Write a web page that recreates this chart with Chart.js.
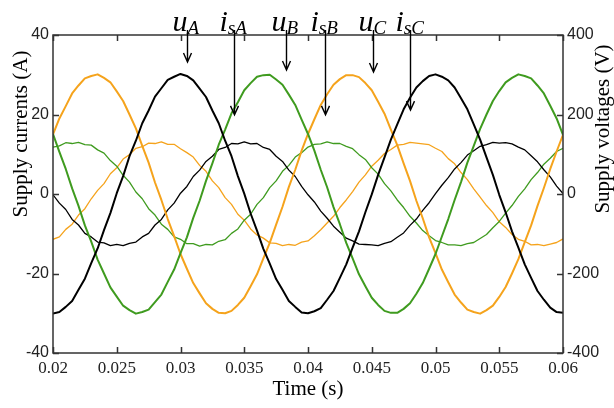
<!DOCTYPE html>
<html>
<head>
<meta charset="utf-8">
<script src="https://cdn.jsdelivr.net/npm/chart.js@4.4.1/dist/chart.umd.min.js"></script>
<style>
    html, body { margin: 0; padding: 0; background: #fff; }
    #wrap { width: 614px; height: 408px; }
</style>
</head>
<body>
<div id="wrap"><canvas id="chart" width="614" height="408"></canvas></div>
<script>
// time samples (s)
const time = [
    0.02, 0.0205, 0.021, 0.0215, 0.022, 0.0225, 0.023, 0.0235, 0.024, 0.0245,
    0.025, 0.0255, 0.026, 0.0265, 0.027, 0.0275, 0.028, 0.0285, 0.029, 0.0295,
    0.03, 0.0305, 0.031, 0.0315, 0.032, 0.0325, 0.033, 0.0335, 0.034, 0.0345,
    0.035, 0.0355, 0.036, 0.0365, 0.037, 0.0375, 0.038, 0.0385, 0.039, 0.0395,
    0.04, 0.0405, 0.041, 0.0415, 0.042, 0.0425, 0.043, 0.0435, 0.044, 0.0445,
    0.045, 0.0455, 0.046, 0.0465, 0.047, 0.0475, 0.048, 0.0485, 0.049, 0.0495,
    0.05, 0.0505, 0.051, 0.0515, 0.052, 0.0525, 0.053, 0.0535, 0.054, 0.0545,
    0.055, 0.0555, 0.056, 0.0565, 0.057, 0.0575, 0.058, 0.0585, 0.059, 0.0595,
    0.06
];

// supply voltages (V)
const uA = [
    -301, -297, -284, -269, -241, -213, -174, -137, -91, -48, 2, 45, 95, 134, 178, 210, 245, 266, 287, 295,
    302, 297, 286, 265, 244, 210, 178, 134, 95, 45, 1, -49, -92, -138, -175, -214, -241, -269, -284, -298,
    -300, -295, -287, -266, -244, -211, -177, -135, -94, -46, -1, 48, 92, 137, 175, 213, 242, 268, 284, 297,
    301, 295, 286, 268, 241, 213, 175, 137, 92, 48, -2, -46, -94, -135, -177, -211, -244, -266, -286, -297,
    -299
];
const uB = [
    151, 106, 63, 14, -30, -79, -120, -165, -200, -235, -258, -281, -292, -301, -297, -291, -272, -253, -221, -190,
    -149, -109, -60, -17, 33, 77, 124, 162, 203, 231, 261, 279, 295, 299, 300, 288, 275, 250, 224, 187,
    151, 109, 61, 17, -33, -76, -123, -162, -202, -232, -261, -279, -294, -299, -299, -289, -275, -251, -224, -188,
    -151, -107, -63, -15, 30, 79, 121, 164, 200, 234, 259, 281, 292, 301, 297, 291, 273, 253, 222, 190,
    149
];
const uC = [
    150, 190, 221, 253, 273, 291, 297, 301, 292, 281, 258, 234, 200, 165, 121, 79, 29, -15, -63, -106,
    -151, -188, -224, -250, -275, -289, -299, -300, -294, -279, -261, -232, -202, -162, -123, -77, -32, 18, 61, 109,
    151, 188, 224, 251, 275, 289, 299, 299, 294, 279, 261, 232, 202, 162, 123, 77, 33, -17, -61, -109,
    -149, -190, -222, -253, -273, -291, -297, -301, -292, -281, -259, -234, -200, -164, -121, -79, -30, 15, 63, 107,
    149
];

// supply currents (A)
const isA = [
    -0.2, -2.3, -3.9, -6.4, -7.8, -9.9, -10.8, -12.1, -12.3, -13.0, -12.7, -13.0, -12.4, -12.1, -10.8, -9.9, -7.8, -6.4, -4.0, -2.3,
    0.2, 1.9, 4.4, 6.0, 8.2, 9.5, 11.2, 11.7, 12.7, 12.6, 13.1, 12.6, 12.7, 11.7, 11.2, 9.5, 8.2, 6.0, 4.4, 1.9,
    -0.2, -2.0, -4.3, -6.1, -8.1, -9.6, -11.1, -11.8, -12.6, -12.7, -12.8, -13.0, -12.4, -12.0, -10.9, -9.8, -7.9, -6.3, -4.1, -2.2,
    0.1, 2.2, 4.1, 6.3, 7.9, 9.8, 10.9, 12.0, 12.4, 13.0, 12.8, 12.9, 12.6, 11.8, 11.1, 9.6, 8.1, 6.1, 4.3, 2.0,
    0.1
];
const isB = [
    11.8, 12.1, 12.9, 12.7, 13.0, 12.4, 12.3, 11.1, 10.3, 8.4, 7.0, 4.7, 3.0, 0.5, -1.2, -3.7, -5.3, -7.6, -8.9, -10.8,
    -11.4, -12.5, -12.5, -13.1, -12.7, -12.8, -11.9, -11.5, -9.9, -8.8, -6.6, -5.1, -2.6, -0.9, 1.6, 3.3, 5.7, 7.2, 9.3, 10.4,
    11.8, 12.5, 12.6, 13.1, 12.7, 12.7, 12.0, 11.4, 9.9, 8.7, 6.6, 5.0, 2.6, 0.8, -1.5, -3.4, -5.6, -7.3, -9.2, -10.5,
    -11.7, -12.2, -12.8, -12.8, -13.0, -12.5, -12.2, -11.2, -10.2, -8.5, -6.9, -4.8, -2.9, -0.6, 1.3, 3.6, 5.4, 7.5, 9.0, 10.7,
    11.5
];
const isC = [
    -11.4, -10.8, -8.9, -7.6, -5.3, -3.7, -1.2, 0.9, 2.6, 5.1, 6.6, 8.8, 9.9, 11.5, 11.9, 12.8, 12.7, 13.1, 12.5, 12.5,
    11.4, 10.4, 9.3, 7.2, 5.7, 3.3, 1.6, -0.9, -2.6, -5.1, -6.6, -8.8, -10.3, -11.1, -12.3, -12.4, -13.0, -12.7, -12.9, -12.1,
    -11.8, -10.5, -9.0, -7.3, -5.6, -3.4, -1.5, 0.6, 3.0, 4.8, 7.0, 8.5, 10.2, 11.2, 12.3, 12.5, 13.0, 12.8, 12.6, 12.4,
    11.5, 10.7, 8.9, 7.6, 5.4, 3.6, 1.3, -0.8, -2.9, -4.7, -7.0, -8.4, -10.2, -11.4, -11.9, -12.8, -12.7, -13.0, -12.6, -12.2,
    -11.3
];

// axis ticks
const xTickValues = [0.02, 0.025, 0.03, 0.035, 0.04, 0.045, 0.05, 0.055, 0.06];
const xTickLabels = ["0.02", "0.025", "0.03", "0.035", "0.04", "0.045", "0.05", "0.055", "0.06"];
const currentTicks = [-40, -20, 0, 20, 40];
const voltageTicks = [-400, -200, 0, 200, 400];

// arrow annotations: label, subscript, time, arrow tip (A)
const annMain = ["u", "i", "u", "i", "u", "i"];
const annSub = ["A", "sA", "B", "sB", "C", "sC"];
const annTime = [0.0305, 0.0342, 0.0383, 0.0413, 0.0451, 0.048];
const annTip = [33.2, 19.9, 31.2, 19.9, 30.7, 21.1];

const BLACK = "#000000";
const GREEN = "#3f9b1f";
const ORANGE = "#f5a31c";

function points(values) {
    return time.map((t, i) => ({ x: t, y: values[i] }));
}

const framePlugin = {
    id: "frame",
    afterDraw(chart) {
        const ctx = chart.ctx;
        const area = chart.chartArea;
        const x = chart.scales.x;
        const y = chart.scales.y;

        ctx.save();
        ctx.strokeStyle = "#333";
        ctx.lineWidth = 1.5;
        ctx.strokeRect(area.left, area.top, area.right - area.left, area.bottom - area.top);

        // inward tick marks
        ctx.beginPath();
        xTickValues.forEach(v => {
            const px = Math.round(x.getPixelForValue(v)) + 0.5;
            ctx.moveTo(px, area.bottom);
            ctx.lineTo(px, area.bottom - 6);
            ctx.moveTo(px, area.top);
            ctx.lineTo(px, area.top + 6);
        });
        currentTicks.forEach(v => {
            const py = Math.round(y.getPixelForValue(v)) + 0.5;
            ctx.moveTo(area.left, py);
            ctx.lineTo(area.left + 6, py);
            ctx.moveTo(area.right, py);
            ctx.lineTo(area.right - 6, py);
        });
        ctx.stroke();

        // axis titles
        ctx.fillStyle = "#000";
        ctx.font = '21px "Liberation Serif"';
        ctx.textAlign = "center";
        ctx.textBaseline = "middle";
        ctx.fillText("Time (s)", (area.left + area.right) / 2, 389);

        ctx.save();
        ctx.translate(21, 134);
        ctx.rotate(-Math.PI / 2);
        ctx.fillText("Supply currents (A)", 0, 0);
        ctx.restore();

        ctx.save();
        ctx.translate(603, 129);
        ctx.rotate(-Math.PI / 2);
        ctx.fillText("Supply voltages (V)", 0, 0);
        ctx.restore();

        // arrows and labels
        ctx.strokeStyle = "#000";
        ctx.lineWidth = 1.4;
        ctx.textAlign = "left";
        ctx.textBaseline = "alphabetic";
        annMain.forEach((m, i) => {
            const px = Math.round(x.getPixelForValue(annTime[i])) + 0.5;
            const tip = y.getPixelForValue(annTip[i]);
            ctx.beginPath();
            ctx.moveTo(px, area.top - 5);
            ctx.lineTo(px, tip);
            ctx.moveTo(px - 4, tip - 9);
            ctx.lineTo(px, tip);
            ctx.lineTo(px + 4, tip - 9);
            ctx.stroke();

            const left = px - 15;
            ctx.font = 'italic 30px "Liberation Serif"';
            ctx.fillText(m, left, 31);
            const w = ctx.measureText(m).width;
            ctx.font = 'italic 19px "Liberation Serif"';
            ctx.fillText(annSub[i], left + w, 34);
        });
        ctx.restore();
    }
};

const tickFont = { family: '"Liberation Sans"', size: 16 };

new Chart(document.getElementById("chart").getContext("2d"), {
    type: "line",
    data: {
        datasets: [
            { label: "uA", data: points(uA), yAxisID: "y2", borderColor: BLACK, borderWidth: 2 },
            { label: "uB", data: points(uB), yAxisID: "y2", borderColor: GREEN, borderWidth: 2 },
            { label: "uC", data: points(uC), yAxisID: "y2", borderColor: ORANGE, borderWidth: 2 },
            { label: "isA", data: points(isA), yAxisID: "y", borderColor: BLACK, borderWidth: 1.3 },
            { label: "isB", data: points(isB), yAxisID: "y", borderColor: GREEN, borderWidth: 1.3 },
            { label: "isC", data: points(isC), yAxisID: "y", borderColor: ORANGE, borderWidth: 1.3 }
        ]
    },
    options: {
        responsive: false,
        animation: false,
        events: [],
        layout: { padding: { top: 35, left: 0, right: 0, bottom: 0 } },
        elements: {
            point: { radius: 0 },
            line: { tension: 0, borderJoinStyle: "round", fill: false }
        },
        plugins: {
            legend: { display: false },
            tooltip: { enabled: false }
        },
        scales: {
            x: {
                type: "linear",
                min: 0.02,
                max: 0.06,
                afterBuildTicks: scale => { scale.ticks = xTickValues.map(v => ({ value: v })); },
                afterFit: scale => { scale.height = 55; },
                grid: { display: false, drawTicks: false },
                border: { display: false },
                ticks: {
                    autoSkip: false,
                    maxRotation: 0,
                    padding: 5,
                    color: "#222",
                    font: { family: '"Liberation Sans Narrow"', size: 17 },
                    callback: (v, i) => xTickLabels[i]
                }
            },
            y: {
                position: "left",
                min: -40,
                max: 40,
                afterBuildTicks: scale => { scale.ticks = currentTicks.map(v => ({ value: v })); },
                afterFit: scale => { scale.width = 53; },
                grid: { display: false, drawTicks: false },
                border: { display: false },
                ticks: { padding: 4, color: "#222", font: tickFont }
            },
            y2: {
                position: "right",
                min: -400,
                max: 400,
                afterBuildTicks: scale => { scale.ticks = voltageTicks.map(v => ({ value: v })); },
                afterFit: scale => { scale.width = 51; },
                grid: { display: false, drawTicks: false },
                border: { display: false },
                ticks: { padding: 4, color: "#222", font: tickFont }
            }
        }
    },
    plugins: [framePlugin]
});
</script>
</body>
</html>
